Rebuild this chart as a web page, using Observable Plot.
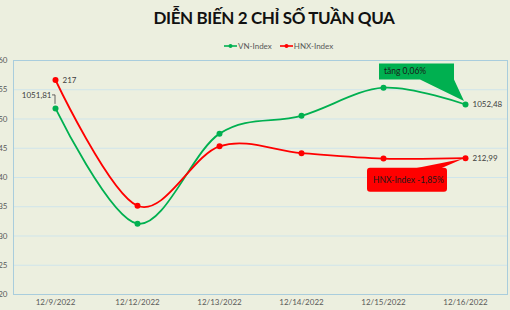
<!DOCTYPE html>
<html><head><meta charset="utf-8">
<script src="https://cdn.jsdelivr.net/npm/d3@7"></script>
<script src="https://cdn.jsdelivr.net/npm/@observablehq/plot@0.6"></script>
<style>
body{margin:0;background:#ECEFDF;width:510px;height:310px;overflow:hidden;position:relative;font-family:Lato,"Open Sans",sans-serif;}
#title{position:absolute;left:0;top:7px;width:548px;text-align:center;font-weight:bold;font-size:17px;color:#111;letter-spacing:-0.4px;}
#legend{position:absolute;left:224px;top:41px;font-size:8px;color:#595959;display:flex;align-items:center;height:10px;}
#legend span{margin-right:8px;margin-left:1px;}
#chart{position:absolute;left:0;top:50px;}
</style></head><body>
<div id="title">DIỄN BIẾN 2 CHỈ SỐ TUẦN QUA</div>
<div id="legend"></div>
<div id="chart"></div>
<script>
const dates = ["12/9/2022","12/12/2022","12/13/2022","12/14/2022","12/15/2022","12/16/2022"];
const vnIndex = [1051.81, 1032.1, 1047.5, 1050.55, 1055.35, 1052.48];
const hnxIndex = [217, 210.55, 213.6, 213.25, 212.97, 212.99];
const vnTicks = [1020, 1025, 1030, 1035, 1040, 1045, 1050, 1055, 1060];
const vnDomain = [1020, 1060];
const hnxDomain = [206, 218];
const seriesNames = ["VN-Index", "HNX-Index"];
const seriesColors = ["#00B050", "#FF0000"];
const calloutTexts = ["tăng 0,06%", "HNX-Index -1,85%"];

const toPrimary = v => vnDomain[0] + (v - hnxDomain[0]) * (vnDomain[1] - vnDomain[0]) / (hnxDomain[1] - hnxDomain[0]);
const fmt = v => String(v).replace(".", ",");
const rows = dates.map((d, i) => ({date: d, vn: vnIndex[i], hnx: toPrimary(hnxIndex[i]), hnxRaw: hnxIndex[i]}));
const first = [rows[0]], last = [rows[rows.length - 1]];

// legend
const legend = document.getElementById("legend");
seriesNames.forEach((n, i) => {
  legend.insertAdjacentHTML("beforeend",
    `<svg width="13" height="8"><line x1="0" x2="13" y1="4" y2="4" stroke="${seriesColors[i]}" stroke-width="1.6"/><circle cx="6.5" cy="4" r="2" fill="${seriesColors[i]}"/></svg><span>${n}</span>`);
});

const plot = Plot.plot({
  width: 510, height: 260,
  marginLeft: 13, marginRight: 3, marginTop: 10, marginBottom: 16,
  style: {background: "transparent", fontFamily: "Lato, 'Open Sans', sans-serif", fontSize: "8px", color: "#595959"},
  x: {type: "point", domain: dates, padding: 0.5, label: null, tickSize: 0, tickPadding: 5},
  y: {domain: vnDomain, label: null, ticks: vnTicks, tickSize: 0, tickPadding: 6, tickFormat: d => String(d)},
  marks: [
    Plot.ruleY(vnTicks, {stroke: "#CFE5EB", strokeWidth: 1}),
    Plot.frame({stroke: "#A9CDDD"}),
    Plot.line(rows, {x: "date", y: "vn", stroke: seriesColors[0], strokeWidth: 1.8, curve: "cardinal"}),
    Plot.line(rows, {x: "date", y: "hnx", stroke: seriesColors[1], strokeWidth: 1.8, curve: "cardinal"}),
    Plot.dot(rows, {x: "date", y: "vn", r: 3, fill: seriesColors[0]}),
    Plot.dot(rows, {x: "date", y: "hnx", r: 3, fill: seriesColors[1]}),
    Plot.text(first, {x: "date", y: "vn", text: d => fmt(d.vn), textAnchor: "end", dx: -4, dy: -13, fill: "#404040", fontSize: 8}),
    Plot.text(first, {x: "date", y: "hnx", text: d => fmt(d.hnxRaw), textAnchor: "start", dx: 7, fill: "#404040", fontSize: 8}),
    Plot.text(last, {x: "date", y: "vn", text: d => fmt(d.vn), textAnchor: "start", dx: 7, fill: "#404040", fontSize: 8}),
    Plot.text(last, {x: "date", y: "hnx", text: d => fmt(d.hnxRaw), textAnchor: "start", dx: 7, fill: "#404040", fontSize: 8})
  ]
});
document.getElementById("chart").appendChild(plot);

// scales for annotations
let sx, sy;
try { const X = plot.scale("x"), Y = plot.scale("y"); sx = v => X.apply(v); sy = v => Y.apply(v); }
catch (e) { sx = d3.scalePoint().domain(dates).range([13, 507]).padding(0.5); sy = d3.scaleLinear().domain(vnDomain).range([244, 10]); }

const svg = d3.select(plot);
const g = svg.append("g").attr("text-anchor", "start");
// leader line for first VN label
const p0 = [sx(rows[0].date), sy(rows[0].vn)];
g.append("path").attr("d", `M${p0[0]-3},${p0[1]-13}H${p0[0]}V${p0[1]-4}`).attr("fill", "none").attr("stroke", "#404040").attr("stroke-width", 0.8);

// green callout near last VN point
const pv = [sx(last[0].date), sy(last[0].vn)];
g.append("path").attr("d",
  `M${pv[0]-86},${pv[1]-40.5}H${pv[0]-11}V${pv[1]-24.5}L${pv[0]-1},${pv[1]-3}L${pv[0]-45},${pv[1]-24.5}H${pv[0]-86}Z`)
  .attr("fill", seriesColors[0]);
g.append("text").attr("x", pv[0]-81).attr("y", pv[1]-29.5).attr("font-size", 8.5).attr("fill", "#1a1a1a").text(calloutTexts[0]);

// red callout near last HNX point
const ph = [sx(last[0].date), sy(last[0].hnx)];
g.append("path").attr("d", `M${ph[0]-52},${ph[1]+11}L${ph[0]-2},${ph[1]+1}L${ph[0]-25},${ph[1]+11}Z`).attr("fill", seriesColors[1]);
g.append("rect").attr("x", ph[0]-98).attr("y", ph[1]+10).attr("width", 80).attr("height", 24).attr("rx", 3).attr("fill", seriesColors[1]);
g.append("text").attr("x", ph[0]-92).attr("y", ph[1]+25).attr("font-size", 8.5).attr("fill", "#1a1a1a").text(calloutTexts[1]);
</script>
</body></html>
